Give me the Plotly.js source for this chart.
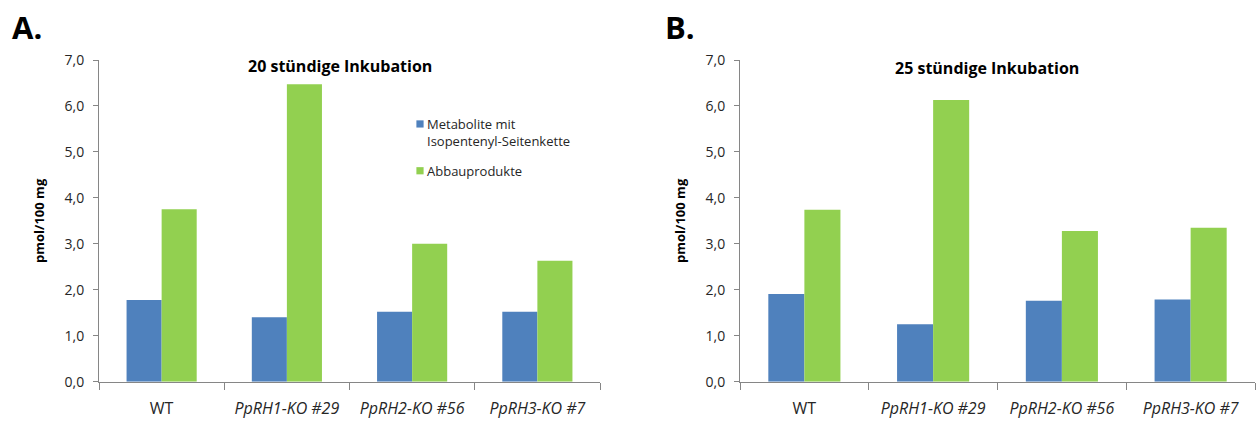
<!DOCTYPE html>
<html>
<head>
<meta charset="utf-8">
<script src="https://cdn.plot.ly/plotly-3.0.1.min.js"></script>
<style>
  html, body { margin: 0; padding: 0; background: #ffffff; }
  #chart { width: 1256px; height: 425px; }
  /* smaller legend swatches, placed closer to their text */
  .legend .legendpoints path {
    transform-box: fill-box;
    transform-origin: center;
    transform: translate(33px, 0) scale(0.6);
  }
</style>
</head>
<body>
<div id="chart"></div>
<script>
// Strains (x categories)
const strains = ['WT', 'PpRH1-KO #29', 'PpRH2-KO #56', 'PpRH3-KO #7'];
const strainLabels = ['WT', '<i>PpRH1-KO #29</i>', '<i>PpRH2-KO #56</i>', '<i>PpRH3-KO #7</i>'];

// Series names
const seriesNames = ['Metabolite mit<br>Isopentenyl-Seitenkette', 'Abbauprodukte'];

// pmol/100 mg after 20 h incubation
const metabolites20h = [1.78, 1.40, 1.52, 1.52];
const breakdown20h   = [3.75, 6.47, 3.00, 2.63];

// pmol/100 mg after 25 h incubation
const metabolites25h = [1.91, 1.25, 1.76, 1.79];
const breakdown25h   = [3.74, 6.13, 3.28, 3.35];

// y axis ticks
const yTicks = [0, 1, 2, 3, 4, 5, 6, 7];

const BLUE = '#4F81BD';
const GREEN = '#92D050';
const W = 1256, H = 425;
const px = v => v / W;
const py = v => 1 - v / H;

const FONT = '"Open Sans", "Noto Sans", sans-serif';

const traces = [
  { type: 'bar', x: strains, y: metabolites20h, name: seriesNames[0], legendgroup: 'met', marker: { color: BLUE }, xaxis: 'x', yaxis: 'y', showlegend: true },
  { type: 'bar', x: strains, y: breakdown20h, name: seriesNames[1], legendgroup: 'abb', marker: { color: GREEN }, xaxis: 'x', yaxis: 'y', showlegend: true },
  { type: 'bar', x: strains, y: metabolites25h, name: seriesNames[0], legendgroup: 'met', marker: { color: BLUE }, xaxis: 'x2', yaxis: 'y2', showlegend: false },
  { type: 'bar', x: strains, y: breakdown25h, name: seriesNames[1], legendgroup: 'abb', marker: { color: GREEN }, xaxis: 'x2', yaxis: 'y2', showlegend: false }
];

function xAxis(domain, anchor) {
  return {
    domain: domain, anchor: anchor, type: 'category',
    tickvals: strains, ticktext: strainLabels,
    showline: true, linecolor: '#868686', linewidth: 1,
    ticks: 'outside', tickson: 'boundaries', ticklen: 7, tickcolor: '#868686',
    ticklabelstandoff: 12,
    showgrid: false, zeroline: false,
    tickfont: { family: FONT, size: 16, color: '#262626' },
    fixedrange: true
  };
}
function yAxis(anchor) {
  return {
    domain: [py(381.7), py(60)], anchor: anchor,
    range: [0, 7], autorange: false,
    tickvals: yTicks, tickformat: '.1f',
    showline: true, linecolor: '#868686', linewidth: 1,
    ticks: 'outside', ticklen: 5, tickcolor: '#868686',
    ticklabelstandoff: 6,
    showgrid: false, zeroline: false,
    tickfont: { family: FONT, size: 14, color: '#262626' },
    title: { text: '<b>pmol/100 mg</b>', font: { family: FONT, size: 13, color: '#000' }, standoff: 17 },
    fixedrange: true
  };
}

const layout = {
  width: W, height: H,
  margin: { l: 0, r: 0, t: 0, b: 0, pad: 0 },
  paper_bgcolor: '#ffffff', plot_bgcolor: '#ffffff',
  separators: ', ',
  barmode: 'group', bargap: 0.44, bargroupgap: 0,
  font: { family: FONT, color: '#000' },
  xaxis: xAxis([px(99), px(600)], 'y'),
  yaxis: yAxis('x'),
  xaxis2: xAxis([px(740), px(1255)], 'y2'),
  yaxis2: yAxis('x2'),
  showlegend: true,
  legend: {
    x: px(387), y: py(109), xanchor: 'left', yanchor: 'top',
    bgcolor: 'rgba(0,0,0,0)', borderwidth: 0,
    font: { family: FONT, size: 13, color: '#262626' },
    valign: 'top', traceorder: 'grouped', tracegroupgap: 10,
    itemclick: false, itemdoubleclick: false
  },
  annotations: [
    { text: '<b>A.</b>', xref: 'paper', yref: 'paper', x: px(10), y: py(27), xanchor: 'left', yanchor: 'middle', showarrow: false, font: { family: FONT, size: 31, color: '#000' } },
    { text: '<b>B.</b>', xref: 'paper', yref: 'paper', x: px(663), y: py(27), xanchor: 'left', yanchor: 'middle', showarrow: false, font: { family: FONT, size: 31, color: '#000' } },
    { text: '<b>20 stündige Inkubation</b>', xref: 'paper', yref: 'paper', x: px(340), y: py(66), xanchor: 'center', yanchor: 'middle', showarrow: false, font: { family: FONT, size: 16, color: '#000' } },
    { text: '<b>25 stündige Inkubation</b>', xref: 'paper', yref: 'paper', x: px(987), y: py(68), xanchor: 'center', yanchor: 'middle', showarrow: false, font: { family: FONT, size: 16, color: '#000' } }
  ]
};

Plotly.newPlot('chart', traces, layout, { staticPlot: true, displayModeBar: false });
</script>
</body>
</html>
